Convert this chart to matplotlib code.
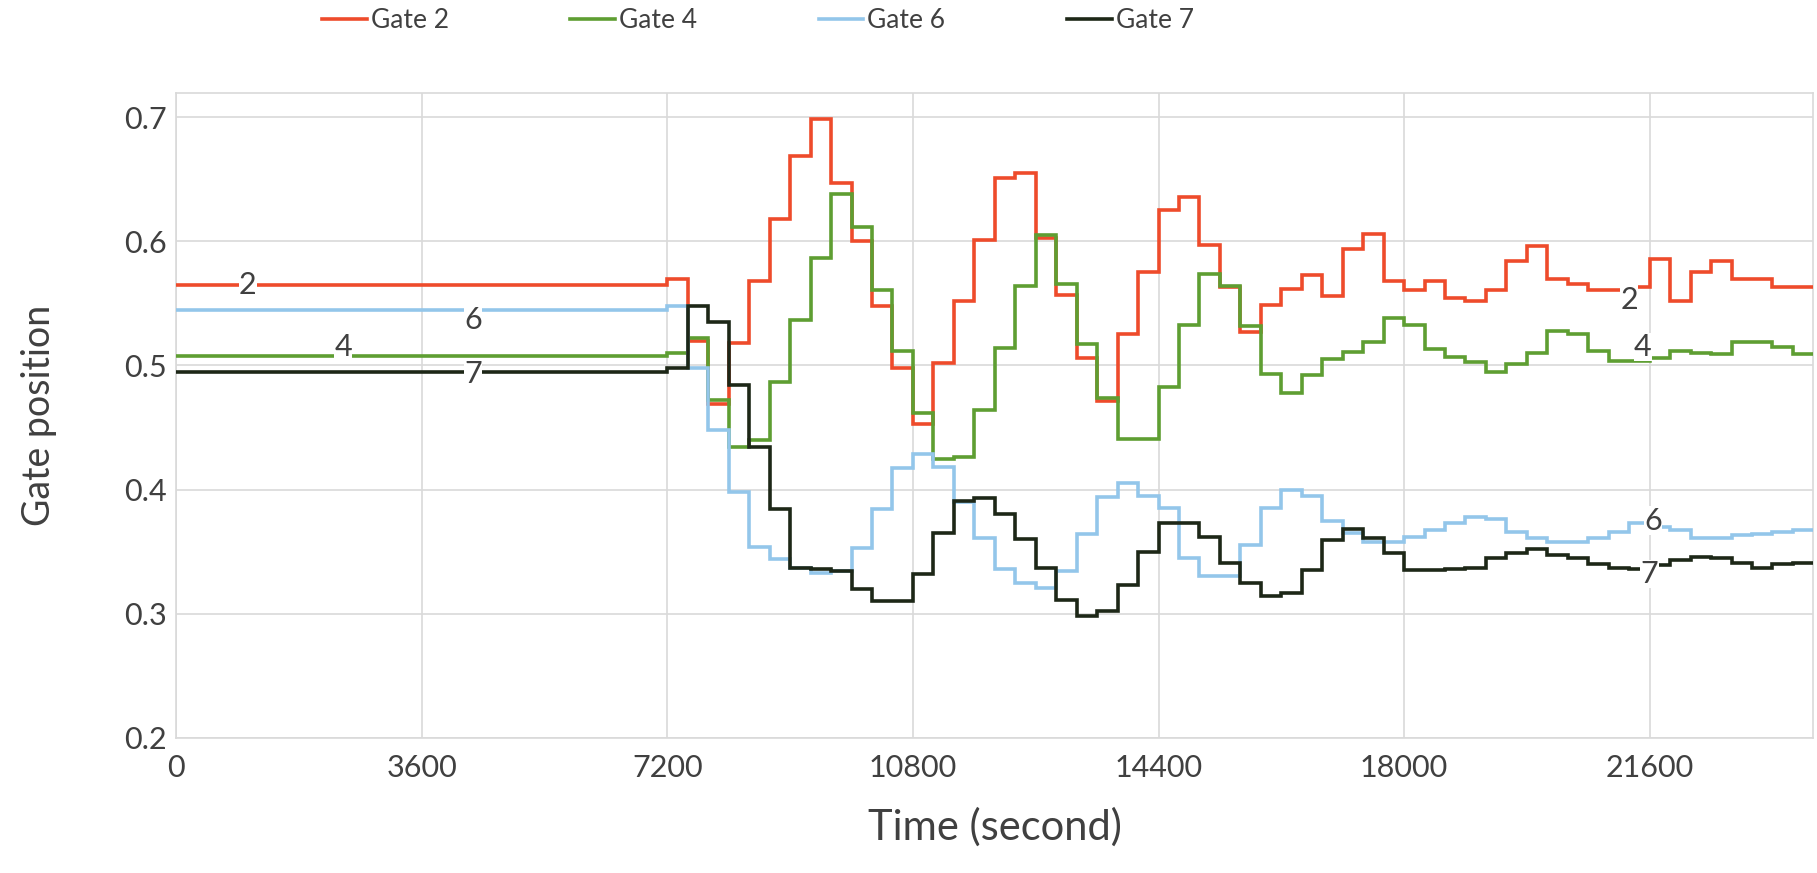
import matplotlib
matplotlib.use('Agg')
import matplotlib.pyplot as plt

# step edges (s): flat until 7200, then 300 s steps up to 24000
edges = [0, 7200, 7500, 7800, 8100, 8400, 8700, 9000, 9300, 9600, 9900,
         10200, 10500, 10800, 11100, 11400, 11700, 12000, 12300, 12600, 12900,
         13200, 13500, 13800, 14100, 14400, 14700, 15000, 15300, 15600, 15900,
         16200, 16500, 16800, 17100, 17400, 17700, 18000, 18300, 18600, 18900,
         19200, 19500, 19800, 20100, 20400, 20700, 21000, 21300, 21600, 21900,
         22200, 22500, 22800, 23100, 23400, 23700, 24000]

gate2 = [0.565, 0.570, 0.520, 0.469, 0.518, 0.568, 0.618, 0.669, 0.699, 0.647,
         0.600, 0.548, 0.498, 0.453, 0.502, 0.552, 0.601, 0.651, 0.655, 0.603,
         0.557, 0.506, 0.471, 0.525, 0.575, 0.625, 0.636, 0.597, 0.563, 0.527,
         0.549, 0.562, 0.573, 0.556, 0.594, 0.606, 0.568, 0.561, 0.568, 0.554,
         0.552, 0.561, 0.584, 0.596, 0.570, 0.566, 0.561, 0.561, 0.563, 0.586,
         0.552, 0.575, 0.584, 0.570, 0.570, 0.563, 0.563]
gate4 = [0.508, 0.510, 0.522, 0.472, 0.434, 0.440, 0.487, 0.537, 0.587, 0.638,
         0.612, 0.561, 0.512, 0.462, 0.425, 0.426, 0.464, 0.514, 0.564, 0.605,
         0.566, 0.517, 0.474, 0.441, 0.441, 0.483, 0.533, 0.574, 0.564, 0.532,
         0.493, 0.478, 0.492, 0.505, 0.511, 0.519, 0.538, 0.533, 0.513, 0.507,
         0.503, 0.495, 0.501, 0.510, 0.528, 0.525, 0.512, 0.504, 0.504, 0.506,
         0.512, 0.510, 0.509, 0.519, 0.519, 0.515, 0.509]
gate6 = [0.545, 0.548, 0.498, 0.448, 0.398, 0.354, 0.344, 0.337, 0.333, 0.334,
         0.353, 0.384, 0.417, 0.429, 0.418, 0.390, 0.361, 0.336, 0.325, 0.321,
         0.334, 0.364, 0.394, 0.405, 0.395, 0.385, 0.345, 0.330, 0.330, 0.355,
         0.385, 0.400, 0.395, 0.375, 0.365, 0.358, 0.358, 0.362, 0.367, 0.373,
         0.378, 0.376, 0.366, 0.361, 0.358, 0.358, 0.361, 0.366, 0.373, 0.370,
         0.367, 0.361, 0.361, 0.363, 0.364, 0.366, 0.367]
gate7 = [0.495, 0.498, 0.548, 0.535, 0.484, 0.434, 0.384, 0.337, 0.336, 0.334,
         0.320, 0.310, 0.310, 0.332, 0.365, 0.391, 0.393, 0.380, 0.360, 0.337,
         0.311, 0.298, 0.302, 0.323, 0.350, 0.373, 0.373, 0.362, 0.341, 0.325,
         0.314, 0.317, 0.335, 0.359, 0.368, 0.361, 0.349, 0.335, 0.335, 0.336,
         0.337, 0.345, 0.349, 0.352, 0.347, 0.345, 0.340, 0.337, 0.336, 0.339,
         0.343, 0.346, 0.345, 0.341, 0.337, 0.340, 0.341]

series = [('Gate 2', gate2, '#EE4B2B'),
          ('Gate 4', gate4, '#5E9E32'),
          ('Gate 6', gate6, '#93C6EA'),
          ('Gate 7', gate7, '#1D2717')]

# inline data labels: (text, time, value)
labels_left = [('2', 1050, 0.565), ('4', 2450, 0.515), ('6', 4350, 0.537), ('7', 4350, 0.493)]
labels_right = [('2', 21300, 0.553), ('4', 21500, 0.515), ('6', 21650, 0.375), ('7', 21600, 0.332)]

x_ticks = [0, 3600, 7200, 10800, 14400, 18000, 21600]
y_ticks = [0.2, 0.3, 0.4, 0.5, 0.6, 0.7]

plt.rcParams['font.family'] = ['Lato', 'DejaVu Sans']
TXT = '#404040'
GRID = '#D9D9D9'

fig = plt.figure(figsize=(18.17, 8.73), dpi=100)
ax = fig.add_axes([0.097, 0.155, 0.901, 0.739])

for name, vals, col in series:
    ax.stairs(vals, edges, baseline=None, color=col, lw=2.6, label=name, zorder=3)

for txt, t, v in labels_left + labels_right:
    ax.text(t, v, txt, ha='center', va='center', fontsize=22, color=TXT, zorder=5,
            bbox=dict(facecolor='white', edgecolor='none', pad=0.3))

ax.set_xlim(0, 24000)
ax.set_ylim(0.2, 0.72)
ax.set_xticks(x_ticks)
ax.set_yticks(y_ticks)
ax.set_yticklabels([f'{v:.1f}' for v in y_ticks])
ax.tick_params(length=0, labelsize=22, labelcolor=TXT)
ax.tick_params(axis='y', pad=7)
ax.tick_params(axis='x', pad=12)
ax.grid(True, color=GRID, lw=1.2, zorder=0)
for s in ax.spines.values():
    s.set_color(GRID)
    s.set_linewidth(1.2)

ax.set_xlabel('Time (second)', fontsize=30, color=TXT)
ax.set_ylabel('Gate position', fontsize=27, color=TXT)
ax.xaxis.set_label_coords(0.5, -0.108)
ax.yaxis.set_label_coords(-0.073, 0.5)

handles, names = ax.get_legend_handles_labels()
fig.legend(handles, names, loc='center', bbox_to_anchor=(0.417, 0.976), ncol=4,
           frameon=False, fontsize=19, handlelength=1.7, handletextpad=0.15,
           columnspacing=4.6, labelcolor=TXT)

fig.savefig('out.png', dpi=100)
